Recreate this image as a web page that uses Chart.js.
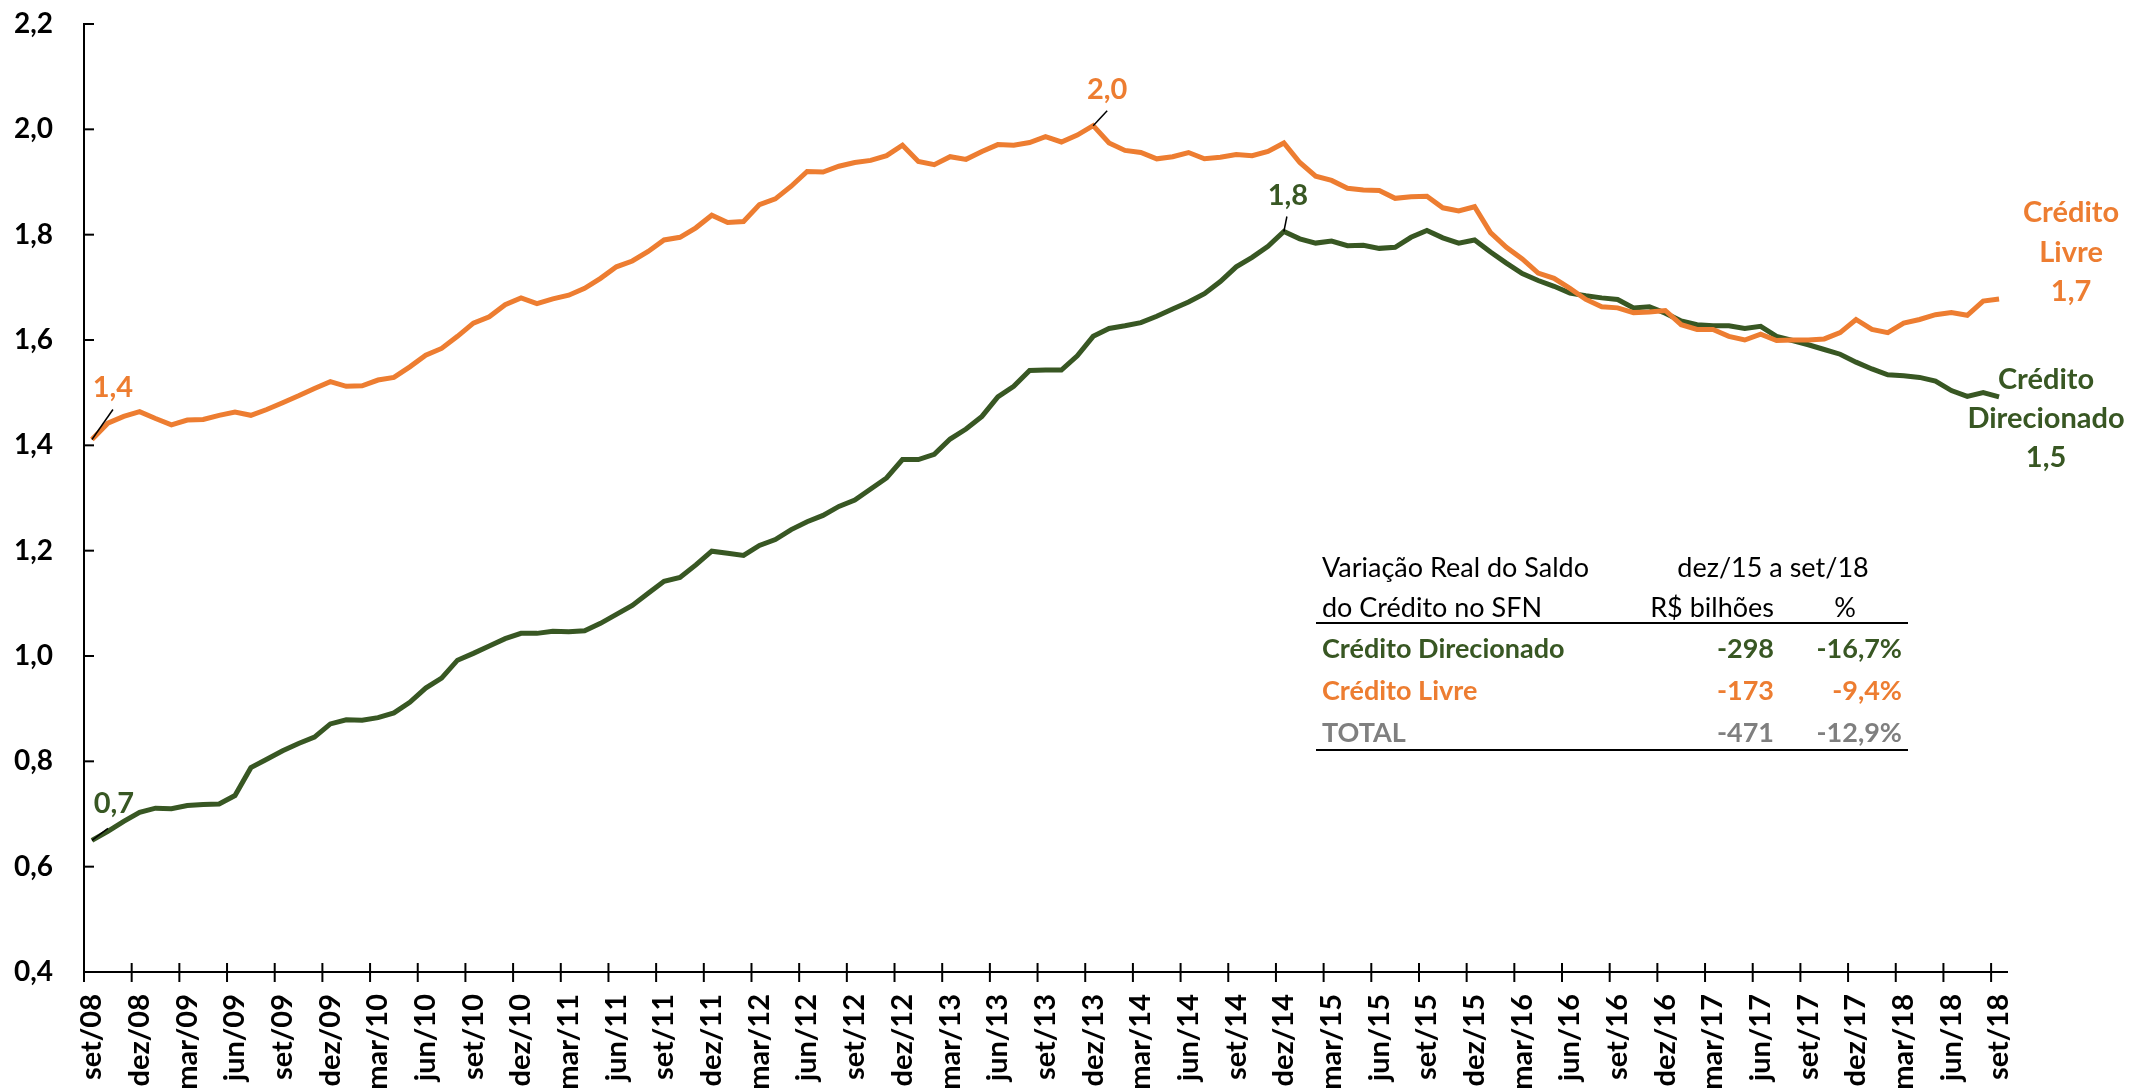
<!DOCTYPE html>
<html lang="pt-BR">
<head>
<meta charset="utf-8">
<title>Crédito Livre e Direcionado</title>
<script src="https://cdn.jsdelivr.net/npm/chart.js@4.4.1/dist/chart.umd.min.js"></script>
<style>
  html, body { margin: 0; padding: 0; background: #fff; }
  #caixa { position: relative; width: 2131px; height: 1091px; overflow: hidden; }
  #grafico { position: absolute; left: 0; top: 0; }
  .cel { position: absolute; height: 40px; line-height: 40px; font-family: Lato, "Open Sans", sans-serif;
         font-size: 27px; white-space: nowrap; }
  .regra { position: absolute; height: 2px; background: #000; }
</style>
</head>
<body>
<div id="caixa">
  <canvas id="grafico" width="2131" height="1091"></canvas>
  <div id="tabela"></div>
</div>
<script>
// Saldo do crédito (R$ trilhões), set/08 a set/18
const livre = [
  1.411, 1.442, 1.455, 1.464, 1.451, 1.439, 1.448, 1.449, 1.457, 1.463, 1.457, 1.468,
  1.481, 1.494, 1.508, 1.521, 1.512, 1.513, 1.524, 1.529, 1.549, 1.571, 1.584, 1.607,
  1.632, 1.644, 1.667, 1.680, 1.669, 1.678, 1.685, 1.698, 1.717, 1.739, 1.750, 1.768,
  1.790, 1.795, 1.813, 1.837, 1.823, 1.825, 1.857, 1.868, 1.892, 1.920, 1.919, 1.930,
  1.937, 1.941, 1.950, 1.970, 1.939, 1.933, 1.948, 1.943, 1.958, 1.971, 1.970, 1.975,
  1.986, 1.976, 1.989, 2.007, 1.974, 1.960, 1.956, 1.944, 1.948, 1.956, 1.944, 1.947,
  1.952, 1.950, 1.958, 1.974, 1.937, 1.911, 1.903, 1.888, 1.885, 1.884, 1.869, 1.872,
  1.873, 1.851, 1.845, 1.853, 1.804, 1.776, 1.754, 1.727, 1.717, 1.698, 1.677, 1.663,
  1.661, 1.652, 1.653, 1.656, 1.629, 1.620, 1.620, 1.607, 1.600, 1.611, 1.599, 1.600,
  1.600, 1.602, 1.614, 1.639, 1.620, 1.614, 1.632, 1.639, 1.648, 1.652, 1.647, 1.674,
  1.678
];
const direcionado = [
  0.650, 0.667, 0.686, 0.703, 0.711, 0.710, 0.716, 0.718, 0.719, 0.735, 0.788, 0.804,
  0.820, 0.834, 0.846, 0.871, 0.879, 0.878, 0.883, 0.892, 0.912, 0.939, 0.958, 0.992,
  1.005, 1.019, 1.033, 1.043, 1.043, 1.047, 1.046, 1.048, 1.062, 1.079, 1.096, 1.119,
  1.142, 1.149, 1.173, 1.199, 1.195, 1.191, 1.210, 1.221, 1.240, 1.255, 1.267, 1.284,
  1.296, 1.317, 1.338, 1.373, 1.373, 1.383, 1.412, 1.431, 1.455, 1.492, 1.512, 1.542,
  1.543, 1.543, 1.570, 1.607, 1.622, 1.627, 1.633, 1.645, 1.659, 1.672, 1.688, 1.711,
  1.739, 1.757, 1.778, 1.806, 1.792, 1.784, 1.788, 1.779, 1.780, 1.774, 1.776, 1.795,
  1.808, 1.794, 1.784, 1.790, 1.767, 1.746, 1.726, 1.713, 1.702, 1.689, 1.684, 1.680,
  1.677, 1.661, 1.663, 1.651, 1.636, 1.629, 1.627, 1.627, 1.622, 1.626, 1.607, 1.599,
  1.591, 1.582, 1.573, 1.558, 1.545, 1.534, 1.532, 1.529, 1.522, 1.504, 1.493, 1.500,
  1.492
];

const meses = ['jan','fev','mar','abr','mai','jun','jul','ago','set','out','nov','dez'];
const rotulos = [];
for (let k = 0; k < livre.length; k++) {
  rotulos.push(meses[(8 + k) % 12] + '/' + String(8 + Math.floor((8 + k) / 12)).padStart(2, '0'));
}

// tabela
const tabCabecalho1 = ['Variação Real do Saldo', 'dez/15 a set/18'];
const tabCabecalho2 = ['do Crédito no SFN', 'R$ bilhões', '%'];
const tabNomes = ['Crédito Direcionado', 'Crédito Livre', 'TOTAL'];
const tabBilhoes = ['-298', '-173', '-471'];
const tabPct = ['-16,7%', '-9,4%', '-12,9%'];

const verde = '#385723', laranja = '#ED7D31', cinza = '#7F7F7F';
const tabCores = [verde, laranja, cinza];
const fonte = 'Lato, "Open Sans", sans-serif';

// rótulos junto às linhas: serie 0 = livre, 1 = direcionado
const notas = [
  {serie: 0, idx: 0, linhas: ['1,4'], dx: 21, dy: [-52], guia: [21, -30]},
  {serie: 1, idx: 0, linhas: ['0,7'], dx: 22, dy: [-37], guia: [16, -12]},
  {serie: 0, idx: 63, linhas: ['2,0'], dx: 14, dy: [-36], guia: [14, -15]},
  {serie: 1, idx: 75, linhas: ['1,8'], dx: 4, dy: [-36], guia: [3, -15]},
  {serie: 0, idx: 120, linhas: ['Crédito', 'Livre', '1,7'], dx: 72, dy: [-86, -46, -7]},
  {serie: 1, idx: 120, linhas: ['Crédito', 'Direcionado', '1,5'], dx: 47, dy: [-17, 22, 61]}
];

const marcasEixos = {
  id: 'marcasEixos',
  afterDatasetsDraw(chart) {
    const {ctx, scales: {x, y}} = chart;
    ctx.save();
    ctx.strokeStyle = '#000';
    ctx.lineWidth = 2;
    y.ticks.forEach(t => {
      const py = y.getPixelForValue(t.value);
      ctx.beginPath(); ctx.moveTo(x.left, py); ctx.lineTo(x.left + 10, py); ctx.stroke();
    });
    const meia = (x.getPixelForValue(1) - x.getPixelForValue(0)) / 2;
    for (let i = 0; i < rotulos.length; i += 3) {
      const px = x.getPixelForValue(i) - meia;
      ctx.beginPath(); ctx.moveTo(px, y.bottom - 9); ctx.lineTo(px, y.bottom + 10); ctx.stroke();
    }
    ctx.restore();
  }
};

const rotulosLinhas = {
  id: 'rotulosLinhas',
  afterDatasetsDraw(chart) {
    const ctx = chart.ctx;
    ctx.save();
    ctx.font = 'bold 29px ' + fonte;
    ctx.textAlign = 'center';
    ctx.textBaseline = 'middle';
    notas.forEach(n => {
      const p = chart.getDatasetMeta(n.serie).data[n.idx];
      if (n.guia) {
        ctx.strokeStyle = '#000';
        ctx.lineWidth = 1.5;
        ctx.beginPath(); ctx.moveTo(p.x, p.y); ctx.lineTo(p.x + n.guia[0], p.y + n.guia[1]); ctx.stroke();
      }
      ctx.fillStyle = chart.data.datasets[n.serie].borderColor;
      n.linhas.forEach((t, k) => ctx.fillText(t, p.x + n.dx, p.y + n.dy[k]));
    });
    ctx.restore();
  }
};

new Chart(document.getElementById('grafico'), {
  type: 'line',
  data: {
    labels: rotulos,
    datasets: [
      {label: 'Crédito Livre', data: livre, borderColor: laranja, borderWidth: 5, pointRadius: 0, tension: 0},
      {label: 'Crédito Direcionado', data: direcionado, borderColor: verde, borderWidth: 5, pointRadius: 0, tension: 0}
    ]
  },
  options: {
    responsive: false,
    animation: false,
    layout: {padding: {top: 24, right: 124, left: 0, bottom: 0}},
    plugins: {legend: {display: false}, tooltip: {enabled: false}},
    scales: {
      x: {
        offset: true,
        grid: {display: false, drawTicks: false},
        border: {display: true, color: '#000', width: 2},
        afterFit: s => { s.height = 119; },
        ticks: {
          autoSkip: false, maxRotation: 90, minRotation: 90, padding: 22,
          color: '#000', font: {family: fonte, size: 29, weight: 'bold'},
          callback: function (v, i) { return i % 3 === 0 ? rotulos[i] : null; }
        }
      },
      y: {
        min: 0.4, max: 2.2,
        grid: {display: false, drawTicks: false},
        border: {display: true, color: '#000', width: 2},
        afterFit: s => { s.width = 84; s.paddingTop = 0; s.paddingBottom = 0; },
        ticks: {
          stepSize: 0.2, padding: 31, color: '#000',
          font: {family: fonte, size: 28, weight: 'bold'},
          callback: v => v.toFixed(1).replace('.', ',')
        }
      }
    }
  },
  plugins: [marcasEixos, rotulosLinhas]
});

// tabela em HTML
const tabela = document.getElementById('tabela');
function cel(txt, x, y, alinh, cor, peso) {
  const d = document.createElement('div');
  d.className = 'cel';
  d.textContent = txt;
  d.style.top = (y - 20) + 'px';
  d.style.color = cor;
  d.style.fontWeight = peso;
  if (alinh === 'left') d.style.left = x + 'px';
  else if (alinh === 'right') d.style.right = (2131 - x) + 'px';
  else { d.style.left = (x - 150) + 'px'; d.style.width = '300px'; d.style.textAlign = 'center'; }
  tabela.appendChild(d);
}
function regra(y) {
  const d = document.createElement('div');
  d.className = 'regra';
  d.style.left = '1316px'; d.style.width = '592px'; d.style.top = (y - 1) + 'px';
  tabela.appendChild(d);
}
cel(tabCabecalho1[0], 1322, 567, 'left', '#000', 400);
cel(tabCabecalho1[1], 1773, 567, 'center', '#000', 400);
cel(tabCabecalho2[0], 1322, 607, 'left', '#000', 400);
cel(tabCabecalho2[1], 1774, 607, 'right', '#000', 400);
cel(tabCabecalho2[2], 1845, 607, 'center', '#000', 400);
regra(623);
tabNomes.forEach((n, k) => {
  const y = 648 + k * 42;
  cel(n, 1322, y, 'left', tabCores[k], 700);
  cel(tabBilhoes[k], 1774, y, 'right', tabCores[k], 700);
  cel(tabPct[k], 1902, y, 'right', tabCores[k], 700);
});
regra(750);
</script>
</body>
</html>
